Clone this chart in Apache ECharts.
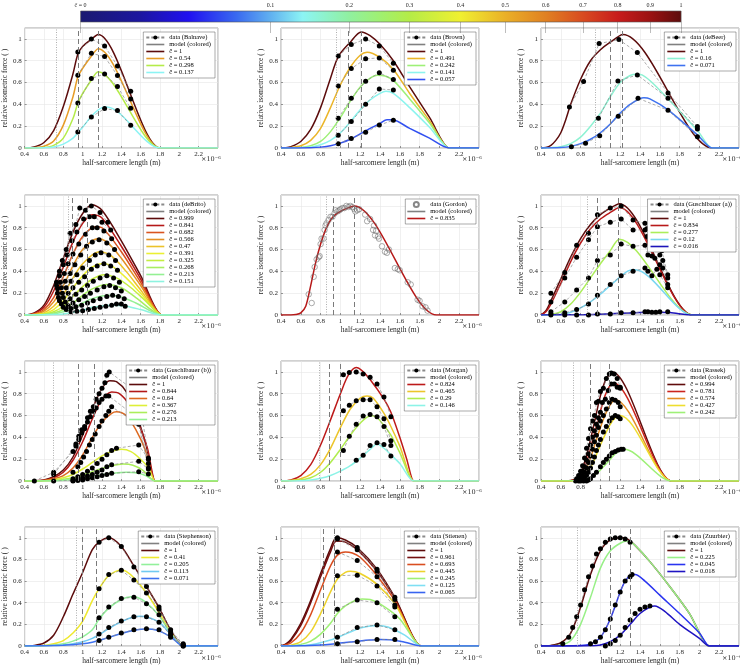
<!DOCTYPE html>
<html><head><meta charset="utf-8">
<script src="https://cdn.jsdelivr.net/npm/echarts@6/dist/echarts.min.js"></script>
<style>html,body{margin:0;padding:0;background:#fff}#c{width:740px;height:666px}</style>
</head><body><div id="c"></div>
<script>
// ---------- colour bar ----------
const colorTicks = [0,0.1,0.2,0.3,0.4,0.5,0.6,0.7,0.8,0.9,1];
const cmapPos = [0,0.1,0.18,0.26,0.316,0.37,0.447,0.5,0.547,0.632,0.707,0.775,0.837,0.894,0.949,1];
const cmapCol = ['#1a1a70','#1c16a0','#2010f0','#3a6af0','#60b0f0','#8cf4f4','#90f0a0','#a0f070','#b4ec48','#f0f030','#eab028','#e08022','#d84a20','#c81c1c','#9a1212','#5c0c0c'];

// ---------- Balnave ----------
const balnaveC = [1, 0.54, 0.298, 0.137];
const balnaveRefs = [0.733, 0.95, 1.157];
const balnaveModel = [
 [[0.4,0],[0.5,0.01],[0.6,0.05],[0.7,0.16],[0.8,0.38],[0.9,0.68],[0.95,0.86],[1.0,0.93],[1.08,0.99],[1.16,1.04],[1.8,0],[1.81,0],[2.4,0]],
 [[0.4,0],[0.5,0.003],[0.6,0.017],[0.7,0.065],[0.8,0.21],[0.9,0.47],[0.95,0.65],[1.0,0.73],[1.08,0.83],[1.16,0.91],[1.8,0],[1.81,0],[2.4,0]],
 [[0.4,0],[0.6,0.005],[0.7,0.024],[0.8,0.09],[0.9,0.27],[0.95,0.41],[1.0,0.5],[1.08,0.61],[1.16,0.70],[1.8,0],[1.81,0],[2.4,0]],
 [[0.4,0],[0.6,0.002],[0.7,0.01],[0.8,0.035],[0.9,0.09],[0.95,0.14],[1.0,0.19],[1.1,0.3],[1.2,0.37],[1.25,0.375],[1.8,0],[1.81,0],[2.4,0]]
];
const balnaveData = [
 [[0.95,0.88],[1.09,1.0],[1.227,0.936],[1.36,0.752],[1.497,0.52]],
 [[0.95,0.667],[1.09,0.868],[1.227,0.838],[1.36,0.664],[1.497,0.45]],
 [[0.95,0.413],[1.09,0.636],[1.227,0.679],[1.36,0.563],[1.497,0.364]],
 [[0.95,0.147],[1.09,0.284],[1.227,0.361],[1.36,0.343],[1.497,0.208]]
];

// ---------- Brown ----------
const brownC = [1, 0.491, 0.242, 0.141, 0.057];
const brownRefs = [0.957, 1.076, 1.21];
const brownModel = [
 [[0.4,0],[0.45,0.002],[0.5,0.012],[0.6,0.06],[0.7,0.17],[0.8,0.37],[0.9,0.64],[0.98,0.84],[1.1,0.97],[1.21,1.064],[1.3,1.03],[1.4,0.95],[1.535,0.8],[1.7,0.56],[1.9,0.28],[2.1,0],[2.11,0],[2.4,0]],
 [[0.4,0],[0.5,0.004],[0.6,0.02],[0.7,0.07],[0.8,0.18],[0.9,0.37],[1.0,0.58],[1.1,0.74],[1.2,0.85],[1.27,0.878],[1.4,0.83],[1.535,0.72],[1.7,0.5],[1.9,0.25],[2.1,0],[2.11,0],[2.4,0]],
 [[0.4,0],[0.6,0.005],[0.7,0.02],[0.8,0.06],[0.9,0.15],[1.0,0.28],[1.1,0.43],[1.2,0.56],[1.3,0.64],[1.37,0.667],[1.45,0.66],[1.535,0.62],[1.7,0.45],[1.9,0.23],[2.1,0],[2.11,0],[2.4,0]],
 [[0.4,0],[0.7,0.008],[0.8,0.03],[0.9,0.07],[1.0,0.14],[1.1,0.24],[1.2,0.35],[1.3,0.44],[1.4,0.5],[1.46,0.52],[1.535,0.5],[1.7,0.37],[1.9,0.19],[2.1,0],[2.11,0],[2.4,0]],
 [[0.4,0],[0.7,0.003],[0.8,0.008],[0.9,0.02],[1.0,0.045],[1.1,0.08],[1.2,0.13],[1.3,0.18],[1.4,0.225],[1.47,0.26],[1.53,0.258],[1.7,0.18],[1.9,0.09],[2.1,0],[2.11,0],[2.4,0]]
];
const brownData = [
 [[0.978,0.844],[1.11,0.948],[1.255,1.0],[1.393,0.936],[1.535,0.777]],
 [[0.978,0.569],[1.11,0.728],[1.255,0.817],[1.393,0.826],[1.535,0.713]],
 [[0.978,0.272],[1.11,0.456],[1.255,0.612],[1.393,0.69],[1.535,0.627]],
 [[0.978,0.116],[1.11,0.242],[1.255,0.40],[1.393,0.541],[1.535,0.532]],
 [[0.978,0.04],[1.11,0.086],[1.255,0.144],[1.393,0.211],[1.535,0.254]]
];

// ---------- deBeer ----------
const debeerC = [1, 0.16, 0.071];
const debeerRefs = [0.953, 1.097, 1.22];
const debeerModel = [
 [[0.4,0],[0.45,0.005],[0.5,0.025],[0.55,0.07],[0.6,0.14],[0.65,0.26],[0.7,0.4],[0.8,0.63],[0.9,0.8],[1.0,0.9],[1.1,0.97],[1.227,1.04],[2.13,0],[2.14,0],[2.4,0]],
 [[0.4,0],[0.5,0.003],[0.6,0.012],[0.7,0.04],[0.8,0.1],[0.9,0.2],[1.0,0.32],[1.1,0.47],[1.2,0.6],[1.3,0.665],[1.37,0.675],[1.42,0.67],[1.683,0.45],[1.98,0.16],[2.13,0],[2.14,0],[2.4,0]],
 [[0.4,0],[0.6,0.004],[0.7,0.015],[0.8,0.04],[0.9,0.08],[1.0,0.14],[1.1,0.22],[1.2,0.32],[1.3,0.4],[1.44,0.46],[1.5,0.45],[1.683,0.35],[1.98,0.12],[2.13,0],[2.14,0],[2.4,0]]
];
const debeerData = [
 [[0.687,0.376],[0.83,0.609],[0.987,0.957],[1.187,0.994],[1.373,0.875],[1.683,0.505],[1.98,0.196]],
 [[0.98,0.272],[1.177,0.615],[1.373,0.67],[1.683,0.456],[1.98,0.174]],
 [[0.707,0.012],[0.85,0.043],[0.993,0.113],[1.18,0.29],[1.38,0.456],[1.683,0.346],[1.98,0.104]]
];

// ---------- deBrito ----------
const debritoC = [0.999, 0.841, 0.682, 0.566, 0.47, 0.391, 0.325, 0.268, 0.213, 0.151];
const debritoRefs = [0.85, 0.885, 1.05];
const debritoModel = [
 [[0.4,0],[0.5,0.02],[0.6,0.09],[0.7,0.27],[0.8,0.52],[0.9,0.76],[1.0,0.93],[1.1,1.01],[1.2,0.96],[1.4,0.68],[1.6,0.36],[1.82,0],[1.83,0],[2.4,0]],
 [[0.4,0],[0.5,0.015],[0.6,0.07],[0.7,0.22],[0.8,0.44],[0.9,0.67],[1.0,0.84],[1.1,0.92],[1.2,0.89],[1.4,0.63],[1.6,0.33],[1.82,0],[1.83,0],[2.4,0]],
 [[0.4,0],[0.5,0.01],[0.6,0.05],[0.7,0.16],[0.8,0.35],[0.9,0.56],[1.0,0.72],[1.13,0.81],[1.2,0.8],[1.4,0.58],[1.6,0.3],[1.82,0],[1.83,0],[2.4,0]],
 [[0.4,0],[0.5,0.006],[0.6,0.035],[0.7,0.12],[0.8,0.27],[0.9,0.45],[1.0,0.6],[1.15,0.70],[1.25,0.67],[1.4,0.52],[1.6,0.27],[1.82,0],[1.83,0],[2.4,0]],
 [[0.4,0],[0.5,0.004],[0.6,0.02],[0.7,0.08],[0.8,0.19],[0.9,0.34],[1.0,0.47],[1.17,0.58],[1.3,0.54],[1.45,0.4],[1.6,0.23],[1.82,0],[1.83,0],[2.4,0]],
 [[0.4,0],[0.5,0.002],[0.6,0.012],[0.7,0.05],[0.8,0.13],[0.9,0.25],[1.0,0.36],[1.1,0.44],[1.2,0.47],[1.3,0.45],[1.45,0.34],[1.6,0.2],[1.82,0],[1.83,0],[2.4,0]],
 [[0.4,0],[0.6,0.008],[0.7,0.03],[0.8,0.08],[0.9,0.17],[1.0,0.26],[1.1,0.33],[1.22,0.37],[1.35,0.34],[1.5,0.25],[1.65,0.13],[1.82,0],[1.83,0],[2.4,0]],
 [[0.4,0],[0.6,0.005],[0.7,0.018],[0.8,0.05],[0.9,0.11],[1.0,0.18],[1.1,0.24],[1.25,0.28],[1.4,0.25],[1.55,0.16],[1.82,0],[1.83,0],[2.4,0]],
 [[0.4,0],[0.6,0.002],[0.7,0.01],[0.8,0.03],[0.9,0.06],[1.0,0.11],[1.1,0.15],[1.27,0.18],[1.4,0.165],[1.55,0.11],[1.82,0],[1.83,0],[2.4,0]],
 [[0.4,0],[0.7,0.004],[0.8,0.01],[0.9,0.025],[1.0,0.045],[1.1,0.07],[1.3,0.09],[1.45,0.08],[1.6,0.05],[1.82,0],[1.83,0],[2.4,0]]
];
const debritoData = [
 [[0.73,0.3],[0.76,0.4],[0.79,0.5],[0.83,0.6],[0.87,0.75],[0.93,0.83],[0.97,0.98],[1.03,0.96],[1.09,1.0],[1.18,0.94],[1.26,0.85]],
 [[0.73,0.27],[0.76,0.36],[0.8,0.46],[0.84,0.55],[0.89,0.68],[0.94,0.76],[1.01,0.88],[1.07,0.9],[1.12,0.9],[1.2,0.85],[1.29,0.78]],
 [[0.74,0.24],[0.77,0.3],[0.81,0.38],[0.85,0.47],[0.9,0.56],[0.96,0.65],[1.03,0.74],[1.1,0.8],[1.15,0.8],[1.22,0.77],[1.3,0.7]],
 [[0.74,0.2],[0.78,0.25],[0.82,0.31],[0.87,0.38],[0.92,0.46],[0.98,0.55],[1.04,0.63],[1.1,0.67],[1.17,0.69],[1.25,0.66],[1.33,0.6]],
 [[0.75,0.16],[0.79,0.2],[0.83,0.25],[0.88,0.31],[0.94,0.37],[1.0,0.43],[1.07,0.5],[1.13,0.55],[1.19,0.57],[1.27,0.55],[1.34,0.5]],
 [[0.76,0.13],[0.8,0.16],[0.85,0.2],[0.9,0.25],[0.96,0.3],[1.02,0.35],[1.09,0.42],[1.15,0.45],[1.22,0.47],[1.29,0.45],[1.36,0.41]],
 [[0.78,0.1],[0.82,0.12],[0.87,0.15],[0.93,0.19],[0.99,0.23],[1.05,0.27],[1.11,0.31],[1.18,0.34],[1.25,0.36],[1.32,0.34],[1.38,0.3]],
 [[0.8,0.07],[0.85,0.085],[0.9,0.11],[0.96,0.14],[1.02,0.17],[1.08,0.2],[1.15,0.23],[1.22,0.26],[1.28,0.27],[1.34,0.25],[1.4,0.22]],
 [[0.83,0.05],[0.88,0.06],[0.93,0.075],[0.99,0.09],[1.05,0.11],[1.11,0.13],[1.18,0.15],[1.25,0.17],[1.31,0.18],[1.37,0.17],[1.43,0.15]],
 [[0.88,0.03],[0.94,0.035],[1.0,0.04],[1.06,0.05],[1.12,0.06],[1.18,0.07],[1.24,0.08],[1.3,0.09],[1.35,0.1],[1.4,0.1],[1.44,0.08]]
];

// ---------- Gordon ----------
const gordonC = [0.835];
const gordonRefs = [0.86, 0.927, 1.137];
const gordonModel = [
 [[0.4,0],[0.5,0],[0.55,0.004],[0.6,0.02],[0.65,0.08],[0.7,0.27],[0.75,0.48],[0.8,0.65],[0.85,0.78],[0.9,0.87],[0.95,0.92],[1.0,0.95],[1.07,0.98],[1.14,1.0],[1.97,0],[1.98,0],[2.4,0]]
];
const gordonData = [
 [[0.68,0.19],[0.71,0.11],[0.73,0.35],[0.74,0.44],[0.76,0.51],[0.78,0.53],[0.79,0.54],[0.8,0.65],[0.81,0.7],[0.83,0.7],[0.84,0.78],[0.85,0.82],[0.86,0.84],[0.88,0.87],[0.9,0.9],[0.92,0.9],[0.94,0.93],[0.95,0.96],[0.97,0.95],[0.99,0.96],[1.0,0.97],[1.02,0.98],[1.04,0.98],[1.06,1.0],[1.08,0.99],[1.1,1.0],[1.12,0.99],[1.14,0.97],[1.15,0.95],[1.17,0.96],[1.19,0.97],[1.25,0.92],[1.27,0.86],[1.3,0.88],[1.33,0.78],[1.34,0.82],[1.35,0.73],[1.36,0.77],[1.38,0.72],[1.39,0.7],[1.42,0.63],[1.45,0.58],[1.47,0.57],[1.49,0.6],[1.55,0.43],[1.58,0.42],[1.6,0.41],[1.68,0.3],[1.71,0.28],[1.78,0.14],[1.8,0.13],[1.83,0.08],[1.86,0.07],[1.88,0.04]]
];

// ---------- Guschlbauer (a) ----------
const gaC = [1, 0.834, 0.277, 0.12, 0.016];
const gaRefs = [0.873, 0.973, 1.18];
const gaModel = [
 [[0.4,0],[0.45,0.04],[0.5,0.13],[0.6,0.33],[0.7,0.53],[0.8,0.7],[0.9,0.83],[1.0,0.92],[1.1,0.98],[1.19,1.02],[1.93,0],[1.94,0],[2.4,0]],
 [[0.4,0],[0.45,0.03],[0.5,0.1],[0.6,0.29],[0.7,0.49],[0.8,0.66],[0.9,0.79],[1.0,0.88],[1.1,0.94],[1.19,0.985],[1.93,0],[1.94,0],[2.4,0]],
 [[0.4,0],[0.5,0.005],[0.6,0.03],[0.7,0.1],[0.8,0.21],[0.9,0.34],[1.0,0.47],[1.1,0.59],[1.19,0.695],[1.93,0],[1.94,0],[2.4,0]],
 [[0.4,0],[0.6,0.005],[0.7,0.025],[0.8,0.065],[0.9,0.12],[1.0,0.19],[1.1,0.27],[1.2,0.35],[1.28,0.405],[1.35,0.415],[1.93,0],[1.94,0],[2.4,0]],
 [[0.4,0],[0.8,0.003],[1.0,0.008],[1.2,0.015],[1.4,0.022],[1.55,0.025],[1.7,0.022],[1.93,0],[1.94,0],[2.4,0]]
];
const gaData = [
 [[0.5,0.2],[0.64,0.39],[0.76,0.64],[0.88,0.75],[0.97,0.92],[1.1,0.98],[1.21,1.0],[1.33,0.87],[1.45,0.84],[1.47,0.79],[1.49,0.79],[1.52,0.75],[1.55,0.7],[1.58,0.64],[1.62,0.59],[1.68,0.37]],
 [[0.5,0.12],[0.64,0.34],[0.76,0.53],[0.88,0.69],[0.97,0.81],[1.1,0.85],[1.21,0.88],[1.33,0.78],[1.45,0.78],[1.47,0.72],[1.5,0.7],[1.53,0.65],[1.56,0.6],[1.6,0.55],[1.63,0.5],[1.68,0.34]],
 [[0.5,0.03],[0.64,0.12],[0.76,0.23],[0.88,0.34],[0.97,0.5],[1.1,0.55],[1.21,0.65],[1.33,0.63],[1.45,0.64],[1.48,0.55],[1.52,0.54],[1.55,0.52],[1.6,0.46],[1.63,0.43],[1.68,0.28]],
 [[0.5,0.01],[0.64,0.02],[0.76,0.05],[0.88,0.1],[0.97,0.18],[1.1,0.28],[1.21,0.36],[1.33,0.4],[1.45,0.43],[1.48,0.4],[1.52,0.36],[1.57,0.42],[1.6,0.37],[1.68,0.25]],
 [[0.5,0],[0.64,0],[0.76,0],[0.88,0],[0.97,0.01],[1.1,0.01],[1.21,0.02],[1.33,0.02],[1.45,0.03],[1.48,0.03],[1.52,0.025],[1.56,0.025],[1.6,0.03],[1.68,0.03]]
];

// ---------- Guschlbauer (b) ----------
const gbC = [1, 0.844, 0.64, 0.367, 0.276, 0.213];
const gbRefs = [0.703, 0.952, 1.117];
const gbModel = [
 [[0.4,0],[0.5,0.002],[0.6,0.01],[0.7,0.04],[0.8,0.1],[0.9,0.22],[1.0,0.42],[1.1,0.66],[1.2,0.85],[1.28,0.92],[1.35,0.91],[1.45,0.82],[1.55,0.62],[1.65,0.35],[1.75,0],[1.76,0],[2.4,0]],
 [[0.4,0],[0.6,0.008],[0.7,0.03],[0.8,0.08],[0.9,0.19],[1.0,0.36],[1.1,0.57],[1.2,0.75],[1.3,0.815],[1.38,0.8],[1.48,0.7],[1.58,0.52],[1.67,0.3],[1.75,0],[1.76,0],[2.4,0]],
 [[0.4,0],[0.6,0.005],[0.7,0.02],[0.8,0.05],[0.9,0.12],[1.0,0.24],[1.1,0.4],[1.2,0.54],[1.3,0.62],[1.35,0.635],[1.45,0.6],[1.55,0.47],[1.65,0.28],[1.75,0],[1.76,0],[2.4,0]],
 [[0.4,0],[0.6,0.003],[0.7,0.01],[0.8,0.03],[0.9,0.06],[1.0,0.11],[1.1,0.17],[1.2,0.23],[1.3,0.27],[1.4,0.29],[1.5,0.27],[1.6,0.2],[1.68,0.12],[1.75,0],[1.76,0],[2.4,0]],
 [[0.4,0],[0.7,0.005],[0.8,0.015],[0.9,0.03],[1.0,0.055],[1.1,0.085],[1.2,0.115],[1.3,0.14],[1.42,0.155],[1.52,0.145],[1.62,0.1],[1.75,0],[1.76,0],[2.4,0]],
 [[0.4,0],[0.7,0.002],[0.8,0.007],[0.9,0.015],[1.0,0.027],[1.1,0.042],[1.2,0.058],[1.3,0.07],[1.45,0.08],[1.55,0.075],[1.65,0.05],[1.75,0],[1.76,0],[2.4,0]]
];
const gbData = [
 [[0.5,0],[0.7,0.08],[0.9,0.27],[0.93,0.34],[0.96,0.41],[0.99,0.47],[1.02,0.5],[1.05,0.58],[1.08,0.64],[1.11,0.68],[1.14,0.75],[1.17,0.8],[1.2,0.85],[1.23,0.9],[1.25,0.97],[1.275,1.0],[1.58,0.8],[1.68,0.21]],
 [[0.7,0.06],[0.93,0.32],[0.96,0.38],[0.99,0.44],[1.02,0.48],[1.05,0.54],[1.08,0.59],[1.11,0.64],[1.14,0.67],[1.17,0.72],[1.2,0.75],[1.24,0.78],[1.27,0.78],[1.58,0.57],[1.68,0.16]],
 [[0.9,0.08],[0.95,0.13],[0.98,0.17],[1.01,0.22],[1.04,0.27],[1.07,0.33],[1.1,0.38],[1.13,0.43],[1.17,0.5],[1.2,0.55],[1.24,0.6],[1.27,0.64],[1.3,0.68],[1.58,0.52],[1.68,0.12]],
 [[0.9,0.02],[0.95,0.04],[1.0,0.06],[1.05,0.09],[1.1,0.12],[1.15,0.16],[1.2,0.2],[1.25,0.24],[1.3,0.28],[1.35,0.3],[1.58,0.33],[1.68,0.2]],
 [[0.7,0],[0.9,0.005],[0.95,0.015],[1.0,0.03],[1.05,0.045],[1.1,0.06],[1.15,0.08],[1.2,0.1],[1.25,0.13],[1.3,0.15],[1.58,0.18],[1.68,0.11]],
 [[0.9,0],[0.95,0.005],[1.0,0.01],[1.05,0.02],[1.1,0.03],[1.15,0.04],[1.2,0.05],[1.25,0.06],[1.3,0.07],[1.58,0.085],[1.68,0.065]]
];

// ---------- Morgan ----------
const morganC = [0.824, 0.465, 0.29, 0.146];
const morganRefs = [0.79, 0.885, 1.0];
const morganModel = [
 [[0.4,0],[0.5,0.01],[0.6,0.05],[0.7,0.15],[0.8,0.33],[0.9,0.56],[1.0,0.8],[1.08,0.97],[1.16,1.04],[1.22,1.01],[1.3,0.93],[1.44,0.75],[1.51,0.63],[1.6,0.4],[1.67,0.2],[1.74,0],[1.75,0],[2.4,0]],
 [[0.4,0],[0.5,0.005],[0.6,0.02],[0.7,0.06],[0.8,0.15],[0.9,0.3],[1.0,0.49],[1.1,0.66],[1.2,0.76],[1.27,0.78],[1.33,0.76],[1.44,0.62],[1.51,0.5],[1.6,0.32],[1.74,0],[1.75,0],[2.4,0]],
 [[0.4,0],[0.6,0.01],[0.7,0.03],[0.8,0.08],[0.9,0.17],[1.0,0.29],[1.1,0.42],[1.2,0.53],[1.31,0.6],[1.37,0.58],[1.44,0.51],[1.51,0.42],[1.6,0.26],[1.74,0],[1.75,0],[2.4,0]],
 [[0.4,0],[0.6,0.003],[0.7,0.01],[0.8,0.025],[0.9,0.05],[1.0,0.09],[1.1,0.14],[1.2,0.21],[1.3,0.29],[1.37,0.34],[1.44,0.3],[1.51,0.24],[1.6,0.16],[1.74,0],[1.75,0],[2.4,0]]
];
const morganData = [
 [[1.03,0.975],[1.09,0.995],[1.16,1.0],[1.23,0.98],[1.3,0.95],[1.37,0.89],[1.44,0.77],[1.51,0.59]],
 [[1.03,0.645],[1.09,0.695],[1.16,0.735],[1.23,0.745],[1.3,0.745],[1.37,0.68],[1.44,0.57],[1.51,0.37]],
 [[1.03,0.28],[1.09,0.41],[1.16,0.52],[1.23,0.595],[1.3,0.61],[1.37,0.59],[1.44,0.5],[1.51,0.325]],
 [[1.16,0.19],[1.23,0.235],[1.3,0.325],[1.37,0.35],[1.44,0.335],[1.51,0.23]]
];

// ---------- Rassek ----------
const rassekC = [0.994, 0.781, 0.574, 0.427, 0.242];
const rassekRefs = [0.73, 0.897, 1.087];
const rassekModel = [
 [[0.4,0],[0.6,0],[0.7,0.005],[0.75,0.02],[0.8,0.08],[0.85,0.2],[0.9,0.38],[0.95,0.58],[1.0,0.78],[1.05,0.92],[1.1,0.99],[1.12,1.0],[1.72,0],[1.73,0],[2.4,0]],
 [[0.4,0],[0.6,0],[0.7,0.003],[0.75,0.015],[0.8,0.06],[0.85,0.15],[0.9,0.3],[0.95,0.47],[1.0,0.64],[1.05,0.79],[1.1,0.88],[1.13,0.9],[1.72,0],[1.73,0],[2.4,0]],
 [[0.4,0],[0.6,0],[0.7,0.002],[0.75,0.01],[0.8,0.04],[0.85,0.1],[0.9,0.21],[0.95,0.35],[1.0,0.49],[1.05,0.61],[1.1,0.7],[1.15,0.745],[1.72,0],[1.73,0],[2.4,0]],
 [[0.4,0],[0.7,0.001],[0.75,0.005],[0.8,0.02],[0.85,0.06],[0.9,0.12],[0.95,0.22],[1.0,0.33],[1.05,0.43],[1.1,0.52],[1.15,0.58],[1.2,0.6],[1.72,0],[1.73,0],[2.4,0]],
 [[0.4,0],[0.8,0.005],[0.85,0.015],[0.9,0.03],[0.95,0.06],[1.0,0.1],[1.05,0.15],[1.1,0.2],[1.15,0.25],[1.2,0.28],[1.24,0.29],[1.72,0],[1.73,0],[2.4,0]]
];
const rassekData = [
 [[0.76,0.02],[0.78,0.05],[0.8,0.09],[0.82,0.14],[0.84,0.21],[0.86,0.3],[0.88,0.39],[0.9,0.48],[0.92,0.55],[0.94,0.6],[0.96,0.72],[0.98,0.73],[1.0,0.82],[1.03,0.85],[1.06,0.94],[1.09,0.98],[1.11,0.99],[1.14,0.98],[1.17,0.94],[1.2,0.86]],
 [[0.78,0.02],[0.8,0.05],[0.82,0.09],[0.84,0.13],[0.86,0.19],[0.88,0.25],[0.9,0.33],[0.92,0.4],[0.94,0.46],[0.96,0.52],[0.98,0.58],[1.0,0.63],[1.02,0.72],[1.05,0.75],[1.08,0.83],[1.11,0.89],[1.14,0.89],[1.17,0.86],[1.2,0.85]],
 [[0.8,0.02],[0.82,0.05],[0.84,0.08],[0.86,0.12],[0.88,0.17],[0.9,0.23],[0.92,0.29],[0.94,0.36],[0.96,0.42],[0.98,0.49],[1.0,0.55],[1.03,0.6],[1.06,0.66],[1.09,0.72],[1.12,0.75],[1.15,0.74],[1.18,0.72],[1.2,0.68]],
 [[0.82,0.01],[0.84,0.03],[0.86,0.05],[0.88,0.08],[0.9,0.12],[0.92,0.17],[0.94,0.22],[0.96,0.28],[0.98,0.33],[1.0,0.38],[1.03,0.45],[1.06,0.5],[1.09,0.55],[1.12,0.58],[1.15,0.6],[1.18,0.59],[1.2,0.57]],
 [[0.75,0],[0.78,0],[0.8,0],[0.83,0],[0.86,0],[0.88,0.01],[0.9,0.02],[0.93,0.05],[0.96,0.08],[1.0,0.13],[1.03,0.17],[1.06,0.2],[1.09,0.23],[1.12,0.26],[1.15,0.27],[1.18,0.285],[1.21,0.29],[1.23,0.29]]
];

// ---------- Stephenson ----------
const stephC = [1, 0.41, 0.205, 0.113, 0.071];
const stephRefs = [0.932, 1.0, 1.135];
const stephModel = [
 [[0.4,0],[0.5,0.005],[0.6,0.028],[0.7,0.1],[0.8,0.27],[0.9,0.48],[1.0,0.68],[1.1,0.89],[1.17,0.96],[1.27,1.0],[1.4,0.92],[1.53,0.74],[1.66,0.55],[1.79,0.355],[1.91,0.15],[2.04,0],[2.05,0],[2.4,0]],
 [[0.4,0],[0.6,0.005],[0.7,0.02],[0.8,0.05],[0.9,0.12],[1.0,0.23],[1.1,0.42],[1.17,0.53],[1.27,0.65],[1.4,0.7],[1.45,0.69],[1.53,0.63],[1.66,0.49],[1.79,0.31],[1.91,0.13],[2.04,0],[2.05,0],[2.4,0]],
 [[0.4,0],[0.7,0.008],[0.8,0.02],[0.9,0.045],[1.0,0.085],[1.1,0.15],[1.17,0.25],[1.27,0.35],[1.4,0.43],[1.5,0.455],[1.56,0.45],[1.66,0.4],[1.79,0.28],[1.91,0.12],[2.04,0],[2.05,0],[2.4,0]],
 [[0.4,0],[0.7,0.004],[0.8,0.01],[0.9,0.022],[1.0,0.04],[1.1,0.07],[1.17,0.105],[1.27,0.16],[1.4,0.225],[1.53,0.27],[1.6,0.275],[1.66,0.27],[1.79,0.22],[1.91,0.11],[2.04,0],[2.05,0],[2.4,0]],
 [[0.4,0],[0.8,0.006],[0.9,0.012],[1.0,0.02],[1.1,0.035],[1.17,0.05],[1.27,0.08],[1.4,0.115],[1.53,0.145],[1.66,0.158],[1.72,0.155],[1.79,0.14],[1.91,0.085],[2.04,0],[2.05,0],[2.4,0]]
];
const stephData = [
 [[1.17,0.96],[1.27,1.0],[1.4,0.92],[1.53,0.73],[1.66,0.55],[1.79,0.36],[1.91,0.15],[2.04,0.01]],
 [[1.17,0.53],[1.27,0.66],[1.4,0.7],[1.53,0.61],[1.66,0.49],[1.79,0.34],[1.91,0.13],[2.04,0.02]],
 [[1.17,0.26],[1.27,0.36],[1.4,0.44],[1.53,0.45],[1.66,0.39],[1.79,0.29],[1.91,0.11],[2.04,0.01]],
 [[1.17,0.11],[1.27,0.17],[1.4,0.23],[1.53,0.27],[1.66,0.27],[1.79,0.22],[1.91,0.1],[2.04,0.0]],
 [[1.17,0.05],[1.27,0.08],[1.4,0.12],[1.53,0.15],[1.66,0.16],[1.79,0.15],[1.91,0.08],[2.04,0.0]]
];

// ---------- Stienen ----------
const stienenC = [1, 0.961, 0.693, 0.445, 0.245, 0.125, 0.065];
const stienenRefs = [0.935, 0.83, 0.945];
const stienenModel = [
 [[0.4,0],[0.45,0.02],[0.5,0.06],[0.6,0.21],[0.7,0.42],[0.8,0.67],[0.9,0.9],[0.96,1.0],[1.05,0.98],[1.17,0.91],[1.37,0.71],[1.55,0.45],[1.82,0],[1.83,0],[2.4,0]],
 [[0.4,0],[0.45,0.015],[0.5,0.05],[0.6,0.19],[0.7,0.4],[0.8,0.64],[0.9,0.87],[0.96,0.97],[1.05,0.96],[1.17,0.89],[1.37,0.69],[1.55,0.44],[1.82,0],[1.83,0],[2.4,0]],
 [[0.4,0],[0.5,0.03],[0.6,0.12],[0.7,0.29],[0.8,0.52],[0.9,0.74],[0.97,0.84],[1.05,0.87],[1.12,0.86],[1.2,0.82],[1.37,0.65],[1.55,0.42],[1.82,0],[1.83,0],[2.4,0]],
 [[0.4,0],[0.5,0.008],[0.6,0.04],[0.7,0.13],[0.8,0.3],[0.9,0.5],[0.97,0.62],[1.05,0.68],[1.1,0.69],[1.2,0.67],[1.37,0.57],[1.55,0.39],[1.82,0],[1.83,0],[2.4,0]],
 [[0.4,0],[0.5,0.003],[0.6,0.015],[0.7,0.045],[0.8,0.11],[0.9,0.21],[0.97,0.3],[1.05,0.37],[1.15,0.42],[1.22,0.435],[1.3,0.43],[1.45,0.36],[1.6,0.25],[1.82,0],[1.83,0],[2.4,0]],
 [[0.4,0],[0.6,0.004],[0.7,0.012],[0.8,0.03],[0.9,0.055],[1.0,0.09],[1.1,0.13],[1.2,0.165],[1.3,0.185],[1.38,0.19],[1.48,0.175],[1.65,0.1],[1.82,0],[1.83,0],[2.4,0]],
 [[0.4,0],[0.6,0.002],[0.8,0.01],[0.9,0.017],[1.0,0.027],[1.1,0.037],[1.2,0.047],[1.3,0.055],[1.4,0.06],[1.5,0.058],[1.65,0.035],[1.82,0],[1.83,0],[2.4,0]]
];
const stienenData = [
 [[0.97,1.0],[1.17,0.91],[1.37,0.71],[1.55,0.45]],
 [[0.97,0.99],[1.17,0.89],[1.37,0.69],[1.55,0.43]],
 [[0.97,0.87],[1.17,0.79],[1.37,0.64],[1.55,0.38]],
 [[0.97,0.65],[1.17,0.655],[1.37,0.555],[1.55,0.36]],
 [[0.97,0.34],[1.17,0.425],[1.37,0.4],[1.55,0.27]],
 [[0.97,0.08],[1.17,0.17],[1.37,0.195],[1.55,0.15]],
 [[0.97,0.02],[1.17,0.04],[1.37,0.06],[1.55,0.06]]
];

// ---------- Zuurbier ----------
const zuurC = [1, 0.225, 0.045, 0.018];
const zuurRefs = [0.77, 1.1, 1.3];
const zuurModel = [
 [[0.4,0],[0.5,0.005],[0.6,0.03],[0.7,0.12],[0.8,0.36],[0.9,0.66],[1.0,0.88],[1.1,0.98],[1.2,1.0],[1.27,0.99],[1.35,0.93],[1.5,0.78],[1.7,0.55],[1.9,0.3],[2.1,0],[2.11,0],[2.4,0]],
 [[0.4,0],[0.6,0.01],[0.7,0.05],[0.8,0.2],[0.9,0.45],[1.0,0.72],[1.1,0.88],[1.2,0.95],[1.27,0.97],[1.35,0.93],[1.5,0.78],[1.7,0.55],[1.9,0.3],[2.1,0],[2.11,0],[2.4,0]],
 [[0.4,0],[0.8,0.005],[0.9,0.02],[1.0,0.08],[1.1,0.25],[1.2,0.5],[1.25,0.6],[1.3,0.65],[1.35,0.66],[1.45,0.6],[1.6,0.47],[1.8,0.3],[2.0,0.12],[2.1,0],[2.11,0],[2.4,0]],
 [[0.4,0],[0.9,0.003],[1.0,0.01],[1.1,0.04],[1.2,0.1],[1.3,0.2],[1.4,0.3],[1.5,0.36],[1.55,0.37],[1.65,0.32],[1.8,0.2],[2.0,0.07],[2.1,0],[2.11,0],[2.4,0]]
];
const zuurData = [
 [[0.62,0.02],[0.68,0.08],[0.72,0.17],[0.76,0.27],[0.8,0.38],[0.84,0.52],[0.88,0.64],[0.92,0.74],[0.96,0.85],[1.0,0.9],[1.05,0.96],[1.1,0.99],[1.15,1.0],[1.2,1.0],[1.25,0.99],[1.3,0.96]],
 [[0.9,0.02],[0.95,0.04],[1.0,0.08],[1.05,0.15],[1.1,0.25],[1.15,0.38],[1.2,0.5],[1.25,0.6],[1.3,0.64],[1.32,0.66]],
 [[1.05,0],[1.1,0.02],[1.15,0.05],[1.2,0.1],[1.25,0.17],[1.3,0.24],[1.35,0.3],[1.4,0.34],[1.45,0.36],[1.5,0.37]]
];

// ---------- assemble ----------
const panels = [
 {name:'Balnave', c:balnaveC, refs:balnaveRefs, model:balnaveModel, data:balnaveData},
 {name:'Brown', c:brownC, refs:brownRefs, model:brownModel, data:brownData},
 {name:'deBeer', c:debeerC, refs:debeerRefs, model:debeerModel, data:debeerData},
 {name:'deBrito', c:debritoC, refs:debritoRefs, model:debritoModel, data:debritoData},
 {name:'Gordon', c:gordonC, refs:gordonRefs, model:gordonModel, data:gordonData, open:true},
 {name:'Guschlbauer (a)', c:gaC, refs:gaRefs, model:gaModel, data:gaData},
 {name:'Guschlbauer (b)', c:gbC, refs:gbRefs, model:gbModel, data:gbData},
 {name:'Morgan', c:morganC, refs:morganRefs, model:morganModel, data:morganData},
 {name:'Rassek', c:rassekC, refs:rassekRefs, model:rassekModel, data:rassekData},
 {name:'Stephenson', c:stephC, refs:stephRefs, model:stephModel, data:stephData},
 {name:'Stienen', c:stienenC, refs:stienenRefs, model:stienenModel, data:stienenData},
 {name:'Zuurbier', c:zuurC, refs:zuurRefs, model:zuurModel, data:zuurData}
];

function hex2rgb(h){return [parseInt(h.slice(1,3),16),parseInt(h.slice(3,5),16),parseInt(h.slice(5,7),16)];}
function colorOf(c){
  const f = Math.sqrt(c);
  for (let k=1;k<cmapPos.length;k++){
    if (f<=cmapPos[k]){
      const t=(f-cmapPos[k-1])/(cmapPos[k]-cmapPos[k-1]);
      const a=hex2rgb(cmapCol[k-1]), b=hex2rgb(cmapCol[k]);
      return 'rgb('+a.map((v,j)=>Math.round(v+(b[j]-v)*t)).join(',')+')';
    }
  }
  return cmapCol[cmapCol.length-1];
}

const FONT='Liberation Serif';
const LINE_ICON='path://M0,0M18,5M0,1.7L18,1.7L18,3.3L0,3.3Z';
const gridL=[20,281,541], gridT=[28,195,361,527], GW=198, GH=120;
const grids=[], xAxes=[], yAxes=[], series=[], legends=[], graphics=[];

panels.forEach((p,i)=>{
  const col=i%3, row=Math.floor(i/3);
  const left=gridL[col], top=gridT[row];
  grids.push({left:left, top:top, width:GW, height:GH, show:true, borderColor:'#8c8c8c', borderWidth:0.8});
  xAxes.push({gridIndex:i, type:'value', min:0.4, max:2.4, interval:0.2,
    name:'half-sarcomere length (m)', nameLocation:'middle', nameGap:11,
    nameTextStyle:{fontFamily:FONT, fontSize:7.5, color:'#262626'},
    axisLine:{show:false}, axisTick:{show:true, inside:true, length:2, lineStyle:{color:'#555', width:0.6}},
    axisLabel:{fontFamily:FONT, fontSize:7, color:'#262626', margin:3, showMaxLabel:false},
    splitLine:{show:true, lineStyle:{color:'#e6e6e6', width:0.6}}});
  yAxes.push({gridIndex:i, type:'value', min:0, max:1.1, interval:0.2,
    name:'relative isometric force ( )', nameLocation:'middle', nameGap:13, nameRotate:90,
    nameTextStyle:{fontFamily:FONT, fontSize:7.5, color:'#262626'},
    axisLine:{show:false}, axisTick:{show:true, inside:true, length:2, lineStyle:{color:'#555', width:0.6}},
    axisLabel:{fontFamily:FONT, fontSize:7, color:'#262626', margin:3, showMaxLabel:false},
    splitLine:{show:true, lineStyle:{color:'#e6e6e6', width:0.6}}});
  // reference lines
  series.push({type:'line', xAxisIndex:i, yAxisIndex:i, data:[], silent:true, z:1,
    markLine:{silent:true, symbol:['none','none'], label:{show:false}, animation:false,
      data:p.refs.map((v,k)=>({xAxis:v, lineStyle: k===0 ? {type:[1,1.5], color:'#9a9a9a', width:0.8} : {type:[5,3], color:'#7a7a7a', width:1}}))}});
  const legendItems=[];
  const dName='data ('+p.name+')';
  legendItems.push({name:dName});
  legendItems.push({name:'model (colored)', icon:LINE_ICON});
  p.c.forEach((c,k)=>{
    const nm='c\u0304 = '+c;
    legendItems.push({name:nm, icon:LINE_ICON});
    const col=colorOf(c);
    series.push({type:'line', name:nm, xAxisIndex:i, yAxisIndex:i, data:p.model[k], symbol:'none', smooth:0.3,
      lineStyle:{width:1.5, color:col}, itemStyle:{color:col}, z:2});
  });
  p.data.forEach(d=>{
    if (p.open){
      series.push({type:'scatter', name:dName, xAxisIndex:i, yAxisIndex:i, data:d, symbol:'circle', symbolSize:5.5,
        itemStyle:{color:'rgba(255,255,255,0)', borderColor:'#6a6a6a', borderWidth:0.7}, z:3});
    } else {
      series.push({type:'line', name:dName, xAxisIndex:i, yAxisIndex:i, data:d, symbol:'circle', symbolSize:5,
        itemStyle:{color:'#000'}, lineStyle:{color:'#8a8a8a', width:0.7, type:[3,2]}, z:3});
    }
  });
  legends.push({orient:'vertical', right:740-(left+GW)+3, top:top+4, data:legendItems,
    itemWidth:18, itemHeight:5, itemGap:0, padding:[2,4,2,2], align:'left',
    backgroundColor:'#fff', borderColor:'#555', borderWidth:0.5, borderRadius:0, selectedMode:false,
    textStyle:{fontFamily:FONT, fontSize:6.5, lineHeight:7, color:'#000'}});
  graphics.push({type:'text', left:left+GW-17, top:top+GH+8, silent:true,
    style:{text:'\u00d710\u207b\u2076', font:'6.5px "DejaVu Serif"', fill:'#262626'}});
});

// dummy model legend entry
series.push({type:'line', name:'model (colored)', xAxisIndex:0, yAxisIndex:0, data:[], symbol:'none',
  lineStyle:{color:'#808080', width:1.2}, itemStyle:{color:'#808080'}});

// colour bar
const cbi = panels.length;
grids.push({left:80.6, top:11, width:600.5, height:11, show:false});
xAxes.push({gridIndex:cbi, type:'value', min:0, max:1, position:'top', z:10,
  axisLine:{show:false}, splitLine:{show:false},
  axisTick:{show:true, inside:true, length:11, customValues:colorTicks.map(Math.sqrt), lineStyle:{color:'rgba(70,70,70,0.45)', width:0.8}},
  axisLabel:{customValues:colorTicks.map(Math.sqrt), fontFamily:FONT, fontSize:6, color:'#262626', margin:3,
    formatter:v=>{const t=colorTicks.find(t=>Math.abs(Math.sqrt(t)-v)<1e-6); return t===0?'c\u0304 = 0':String(t);}}});
yAxes.push({gridIndex:cbi, type:'value', min:0, max:1, show:false});
series.push({type:'custom', xAxisIndex:cbi, yAxisIndex:cbi, data:[[0,0]], silent:true, z:1,
  renderItem:(params,api)=>{
    const p0=api.coord([0,0]), p1=api.coord([1,1]);
    return {type:'rect', shape:{x:p0[0], y:p1[1], width:p1[0]-p0[0], height:p0[1]-p1[1]},
      style:{fill:new echarts.graphic.LinearGradient(0,0,1,0, cmapPos.map((o,k)=>({offset:o, color:cmapCol[k]}))), stroke:'#555', lineWidth:0.6}};
  }});

const chart = echarts.init(document.getElementById('c'), null, {renderer:'canvas'});
chart.setOption({animation:false, grid:grids, xAxis:xAxes, yAxis:yAxes, series:series, legend:legends, graphic:graphics});
</script></body></html>
